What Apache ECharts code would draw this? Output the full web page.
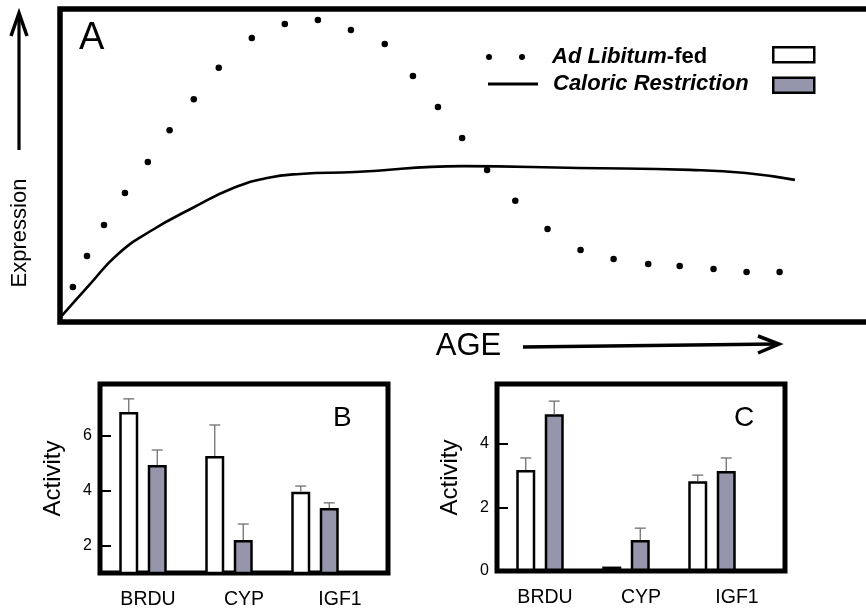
<!DOCTYPE html>
<html>
<head>
<meta charset="utf-8">
<script src="https://cdn.jsdelivr.net/npm/echarts@6/dist/echarts.min.js"></script>
<style>
html,body{margin:0;padding:0;background:#fff}
#chart{width:866px;height:611px}
</style>
</head>
<body>
<div id="chart"></div>
<script>
// Panel A: relative expression across age (arbitrary units)
const ageAdLib  = [1.6, 3.35, 5.46, 8.06, 10.9, 13.6, 16.6, 19.7, 23.8, 27.9, 32.0, 36.1, 40.3, 43.8, 46.9, 49.9, 53.0, 56.5, 60.5, 64.6, 68.7, 73.0, 76.9, 81.1, 85.2, 89.3];
const exprAdLib = [11.2, 21.1, 31.0, 41.2, 51.1, 61.3, 71.2, 81.2, 90.7, 95.2, 96.5, 93.3, 88.8, 78.6, 68.7, 58.8, 48.6, 38.7, 29.7, 23.0, 20.1, 18.5, 17.9, 16.9, 16.0, 16.0];
const ageCR  = [0, 3.7, 7.1, 11.2, 16.5, 21.5, 25.7, 29.8, 36.6, 50.0, 64.3, 78.2, 85.1, 91.2];
const exprCR = [1.3, 12.0, 21.5, 29.0, 36.5, 42.8, 46.0, 47.3, 47.9, 49.8, 49.2, 48.6, 47.6, 45.4];

// Panels B and C: activity per marker, mean and upper error
const genes = ['BRDU', 'CYP', 'IGF1'];
const bAdLib = [6.85, 5.25, 3.95];
const bAdLibErr = [7.33, 6.38, 4.16];
const bCR = [4.93, 2.20, 3.36];
const bCRErr = [5.47, 2.78, 3.55];
const cAdLib = [3.18, 0.14, 2.83];
const cAdLibErr = [3.56, 0.14, 3.02];
const cCR = [4.94, 0.98, 3.15];
const cCRErr = [5.35, 1.35, 3.56];
const bTicks = [2, 4, 6];
const cTicks = [0, 2, 4];

const FONT = "'Liberation Sans', Arial, sans-serif";
const GREY = '#9595ab';
const BAR_W = 19;
const PAIR_OFFSET = BAR_W * 1.5 / 2;

const zip = (xs, ys) => xs.map((x, i) => [x, ys[i]]);

function errorSeries(name, xi, yi, vals, tops, offset) {
  return {
    type: 'custom', name: name, xAxisIndex: xi, yAxisIndex: yi, z: 4,
    data: vals.map((v, i) => [i, v, tops[i]]),
    renderItem: function (params, api) {
      const base = api.coord([api.value(0), api.value(1)]);
      const top = api.coord([api.value(0), api.value(2)]);
      const x = base[0] + offset;
      if (Math.abs(base[1] - top[1]) < 1) return { type: 'group', children: [] };
      const st = { stroke: '#707070', lineWidth: 1.3 };
      return {
        type: 'group',
        children: [
          { type: 'line', shape: { x1: x, y1: base[1], x2: x, y2: top[1] }, style: st },
          { type: 'line', shape: { x1: x - 5.5, y1: top[1], x2: x + 5.5, y2: top[1] }, style: st }
        ]
      };
    }
  };
}

function barSeries(name, xi, yi, vals, fill) {
  return {
    type: 'bar', name: name, xAxisIndex: xi, yAxisIndex: yi,
    data: vals, barWidth: BAR_W, barGap: '50%',
    itemStyle: { color: fill, borderColor: '#000', borderWidth: 2.5 },
    emphasis: { disabled: true }
  };
}

function frameY(grid, min, max, ticks) {
  return {
    gridIndex: grid, type: 'value', min: min, max: max,
    splitLine: { show: false },
    axisLine: { show: false },
    axisTick: { show: true, inside: true, length: 11, lineStyle: { color: '#000', width: 2 }, customValues: ticks },
    axisLabel: { customValues: ticks, fontSize: 16, margin: 8, color: '#000', fontFamily: FONT },
    name: 'Activity', nameLocation: 'middle', nameGap: 35,
    nameTextStyle: { fontSize: 24, color: '#000', fontFamily: FONT }
  };
}

function frameX(grid) {
  return {
    gridIndex: grid, type: 'category', data: genes,
    axisLine: { show: false }, axisTick: { show: false },
    axisLabel: { fontSize: 19.5, margin: 17, color: '#000', fontFamily: FONT }
  };
}

const frame = { show: true, borderWidth: 5, borderColor: '#000', backgroundColor: 'transparent', outerBoundsMode: 'none' };

const chart = echarts.init(document.getElementById('chart'));
chart.setOption({
  backgroundColor: '#fff',
  animation: false,
  title: [
    { text: 'A', left: 79, top: 20, padding: 0, textStyle: { fontSize: 38, fontWeight: 'normal', color: '#000', fontFamily: FONT } },
    { text: 'B', left: 333, top: 404, padding: 0, textStyle: { fontSize: 28, fontWeight: 'normal', color: '#000', fontFamily: FONT } },
    { text: 'C', left: 734, top: 404, padding: 0, textStyle: { fontSize: 28, fontWeight: 'normal', color: '#000', fontFamily: FONT } }
  ],
  legend: [
    {
      left: 486, top: 46, padding: 0, itemWidth: 39, itemHeight: 6, selectedMode: false,
      data: [{ name: 'Ad Libitum-fed', icon: 'path://M0,3A3,3,0,1,1,6,3A3,3,0,1,1,0,3ZM33,3A3,3,0,1,1,39,3A3,3,0,1,1,33,3Z', itemStyle: { color: '#000', opacity: 1 } }],
      formatter: '{sp|}{i|Ad Libitum}{n|-fed}',
      textStyle: {
        rich: {
          sp: { width: 22 },
          i: { fontSize: 22, fontStyle: 'italic', fontWeight: 'bold', color: '#000', fontFamily: FONT },
          n: { fontSize: 22, fontWeight: 'bold', color: '#000', fontFamily: FONT }
        }
      }
    },
    {
      left: 488, top: 73, padding: 0, itemWidth: 50, itemHeight: 3, selectedMode: false,
      data: [{ name: 'Caloric Restriction', icon: 'path://M0,0H50V3H0Z', itemStyle: { color: '#000' } }],
      formatter: '{sp|}{i|Caloric Restriction}',
      textStyle: {
        rich: {
          sp: { width: 10 },
          i: { fontSize: 22, fontStyle: 'italic', fontWeight: 'bold', color: '#000', fontFamily: FONT }
        }
      }
    },
    {
      left: 772, top: 46, padding: 0, orient: 'vertical', itemWidth: 41, itemHeight: 15, itemGap: 13,
      selectedMode: false, icon: 'rect',
      data: [
        { name: 'Ad Libitum-fed', itemStyle: { color: '#fff', borderColor: '#000', borderWidth: 2.5, opacity: 1 } },
        { name: 'Caloric Restriction', itemStyle: { color: GREY, borderColor: '#000', borderWidth: 2.5 } }
      ],
      formatter: function () { return ''; },
      textStyle: { fontSize: 1 }
    }
  ],
  grid: [
    Object.assign({ left: 60, top: 9, width: 830, height: 313 }, frame, { borderWidth: 5.5 }),
    Object.assign({ left: 100, top: 384, width: 288, height: 189 }, frame),
    { left: 100, top: 384, width: 258, height: 189, outerBoundsMode: 'none' },
    Object.assign({ left: 497, top: 384, width: 288, height: 187 }, frame),
    { left: 497, top: 384, width: 258, height: 187, outerBoundsMode: 'none' }
  ],
  xAxis: [
    {
      gridIndex: 0, type: 'value', min: 0, max: 103,
      axisLine: { show: false }, axisTick: { show: false }, axisLabel: { show: false }, splitLine: { show: false },
      name: 'AGE', nameLocation: 'middle', nameGap: 9,
      nameTextStyle: { fontSize: 31, color: '#000', fontFamily: "'Liberation Sans Narrow', " + FONT, padding: [0, 13, 0, 0], verticalAlign: 'top' }
    },
    frameX(1),
    { gridIndex: 2, type: 'category', data: genes, show: false },
    frameX(3),
    { gridIndex: 4, type: 'category', data: genes, show: false }
  ],
  yAxis: [
    { gridIndex: 0, type: 'value', min: 0, max: 100, show: false },
    frameY(1, 1, 7.87, bTicks),
    { gridIndex: 2, type: 'value', min: 1, max: 7.87, show: false },
    frameY(3, 0, 5.89, cTicks),
    { gridIndex: 4, type: 'value', min: 0, max: 5.89, show: false }
  ],
  series: [
    {
      type: 'scatter', name: 'Ad Libitum-fed', xAxisIndex: 0, yAxisIndex: 0,
      data: zip(ageAdLib, exprAdLib), symbolSize: 6.5, itemStyle: { color: '#000', opacity: 1 }
    },
    {
      type: 'line', name: 'Caloric Restriction', xAxisIndex: 0, yAxisIndex: 0,
      data: zip(ageCR, exprCR), smooth: 0.5, showSymbol: false,
      lineStyle: { color: '#000', width: 2.6 }, itemStyle: { color: '#000' }
    },
    barSeries('Ad Libitum-fed', 2, 2, bAdLib, '#fff'),
    barSeries('Caloric Restriction', 2, 2, bCR, GREY),
    errorSeries('Ad Libitum-fed', 2, 2, bAdLib, bAdLibErr, -PAIR_OFFSET),
    errorSeries('Caloric Restriction', 2, 2, bCR, bCRErr, PAIR_OFFSET),
    barSeries('Ad Libitum-fed', 4, 4, cAdLib, '#fff'),
    barSeries('Caloric Restriction', 4, 4, cCR, GREY),
    errorSeries('Ad Libitum-fed', 4, 4, cAdLib, cAdLibErr, -PAIR_OFFSET),
    errorSeries('Caloric Restriction', 4, 4, cCR, cCRErr, PAIR_OFFSET)
  ],
  graphic: [
    {
      type: 'text', x: 20, y: 233, rotation: Math.PI / 2,
      style: { text: 'Expression', font: "22px 'Liberation Sans', Arial, sans-serif", fill: '#000', align: 'center', verticalAlign: 'middle' }
    },
    { type: 'line', shape: { x1: 19, y1: 150, x2: 19, y2: 15 }, style: { stroke: '#000', lineWidth: 3.2 } },
    { type: 'polyline', shape: { points: [[11, 36], [19, 13], [27, 36]] }, style: { stroke: '#000', lineWidth: 3.5, fill: null } },
    { type: 'line', shape: { x1: 523, y1: 347, x2: 777, y2: 344 }, style: { stroke: '#000', lineWidth: 3.5 } },
    { type: 'polyline', shape: { points: [[758, 336], [779, 344], [758, 353]] }, style: { stroke: '#000', lineWidth: 3.5, fill: null } }
  ]
});
</script>
</body>
</html>
